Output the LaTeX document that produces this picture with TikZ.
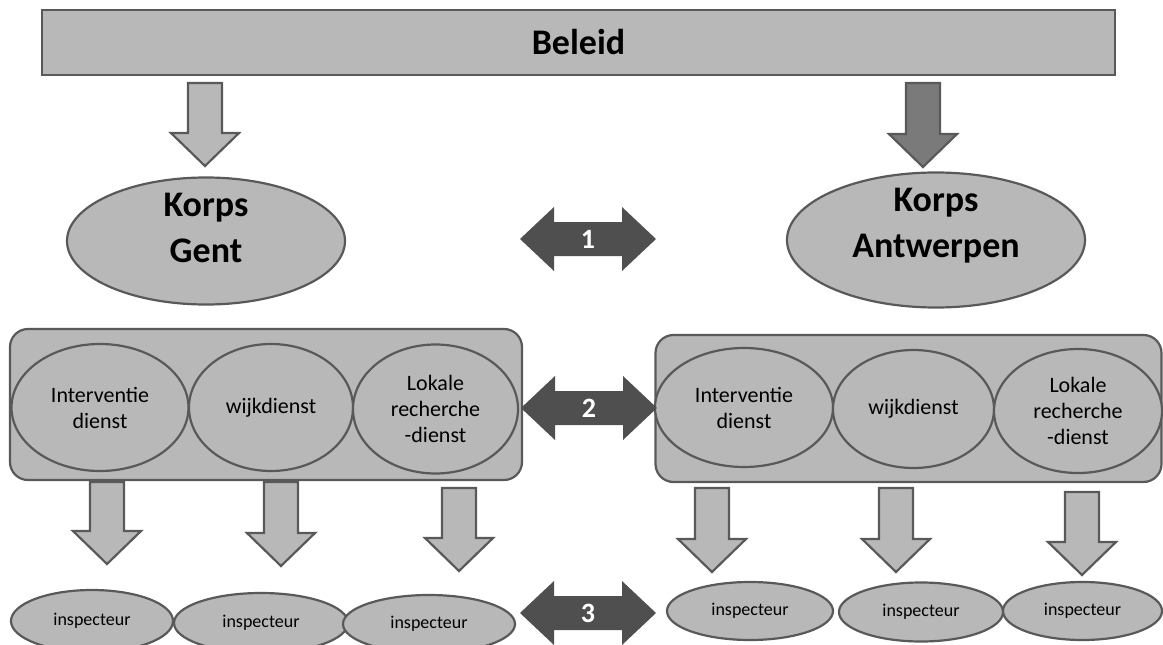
\documentclass[tikz,border=0pt]{standalone}
\usepackage{fontspec}
\setmainfont{Carlito}
\usepackage{tikz}
\usetikzlibrary{shapes.geometric}

\definecolor{boxgray}{HTML}{B8B8B8}
\definecolor{edgegray}{HTML}{595959}
\definecolor{midfill}{HTML}{7A7A7A}
\definecolor{darkfill}{HTML}{4F4F4F}

% block arrow pointing down: centre x, top, tip, fill
\newcommand{\downblock}[4]{%
  \draw[blockline, fill=#4] (#1-17,#2) -- (#1+17,#2) -- (#1+17,#3-33) -- (#1+34,#3-33)
    -- (#1,#3) -- (#1-34,#3-33) -- (#1-17,#3-33) -- cycle;}
% block arrow both ways: name, centre x, centre y, number
\newcommand{\bothblock}[4]{%
  \fill[darkfill] (#2-68,#3) -- (#2-34,#3-32) -- (#2-34,#3-17) -- (#2+34,#3-17) -- (#2+34,#3-32)
    -- (#2+68,#3) -- (#2+34,#3+32) -- (#2+34,#3+17) -- (#2-34,#3+17) -- (#2-34,#3+32) -- cycle;
  \node[numlabel] (#1) at (#2,#3) {#4};}

\begin{document}
\begin{tikzpicture}[x=1pt, y=-1pt,
  every node/.style={inner sep=0pt, align=center},
  bar/.style={draw=edgegray, line width=2.5pt, fill=boxgray, minimum width=1073pt, minimum height=65pt,
    font=\fontsize{36}{44}\selectfont\bfseries},
  korps/.style={ellipse, draw=edgegray, line width=2.2pt, fill=boxgray},
  korpstext/.style={font=\fontsize{36}{46}\selectfont\bfseries},
  groupbox/.style={draw=edgegray, line width=2.2pt, fill=boxgray, rounded corners=18pt},
  dienst/.style={ellipse, draw=edgegray, line width=2.2pt, fill=boxgray, font=\fontsize{22}{26}\selectfont},
  insp/.style={ellipse, draw=edgegray, line width=2.2pt, fill=boxgray, font=\fontsize{18}{22}\selectfont},
  blockline/.style={draw=edgegray, line width=2.2pt, line join=miter},
  numlabel/.style={text=white, font=\fontsize{28}{32}\selectfont\bfseries}]
\useasboundingbox (0,0) rectangle (1163,645);

% Define the policy bar and the two corps
\node[bar] (beleid) at (578.5,42.5) {Beleid};

\node[korps, minimum width=278pt, minimum height=127pt] (gent) at (206,241) {};
\node[korpstext] (gentT) at ([yshift=13pt]gent.center) {Korps\\Gent};
\node[korps, minimum width=298pt, minimum height=135pt] (antw) at (936,240) {};
\node[korpstext] (antwT) at ([yshift=14pt]antw.center) {Korps\\Antwerpen};

% Define the services of each corps
\node[groupbox, minimum width=512pt, minimum height=151pt] (gbox) at (266,404.5) {};
\node[dienst, minimum width=177pt, minimum height=127pt] (gInt) at (100,407.5) {Interventie\\dienst};
\node[dienst, minimum width=164pt, minimum height=127pt] (gWijk) at (271,407.5) {wijkdienst};
\node[dienst, minimum width=165pt, minimum height=129pt] (gLok) at (435.5,409) {Lokale\\recherche\\-dienst};

\node[groupbox, minimum width=506pt, minimum height=147pt] (abox) at (908.5,408.5) {};
\node[dienst, minimum width=178pt, minimum height=119pt] (aInt) at (744,407.5) {Interventie\\dienst};
\node[dienst, minimum width=161pt, minimum height=118pt] (aWijk) at (913.5,409) {wijkdienst};
\node[dienst, minimum width=168pt, minimum height=124pt] (aLok) at (1078,411) {Lokale\\recherche\\-dienst};

% Define the inspectors
\node[insp, minimum width=162pt, minimum height=62pt] (gIns1) at (92,621) {inspecteur};
\node[insp, minimum width=174pt, minimum height=60pt] (gIns2) at (261,623) {inspecteur};
\node[insp, minimum width=172pt, minimum height=58pt] (gIns3) at (429,624) {inspecteur};
\node[insp, minimum width=166pt, minimum height=58pt] (aIns1) at (750,611) {inspecteur};
\node[insp, minimum width=164pt, minimum height=59pt] (aIns2) at (921,612) {inspecteur};
\node[insp, minimum width=159pt, minimum height=58pt] (aIns3) at (1082.5,611) {inspecteur};

% Draw the arrows downwards
\downblock{205}{83}{166}{boxgray}
\downblock{923}{83}{167}{midfill}

\downblock{107}{482}{564}{boxgray}
\downblock{281}{482}{566}{boxgray}
\downblock{459}{488}{571}{boxgray}
\downblock{712}{488}{572}{boxgray}
\downblock{896}{488}{572}{boxgray}
\downblock{1082}{492}{575}{boxgray}

% Draw the exchange arrows between both corps
\bothblock{n1}{588}{239}{1}
\bothblock{n2}{589}{408}{2}
\bothblock{n3}{588}{613}{3}
\end{tikzpicture}
\end{document}
